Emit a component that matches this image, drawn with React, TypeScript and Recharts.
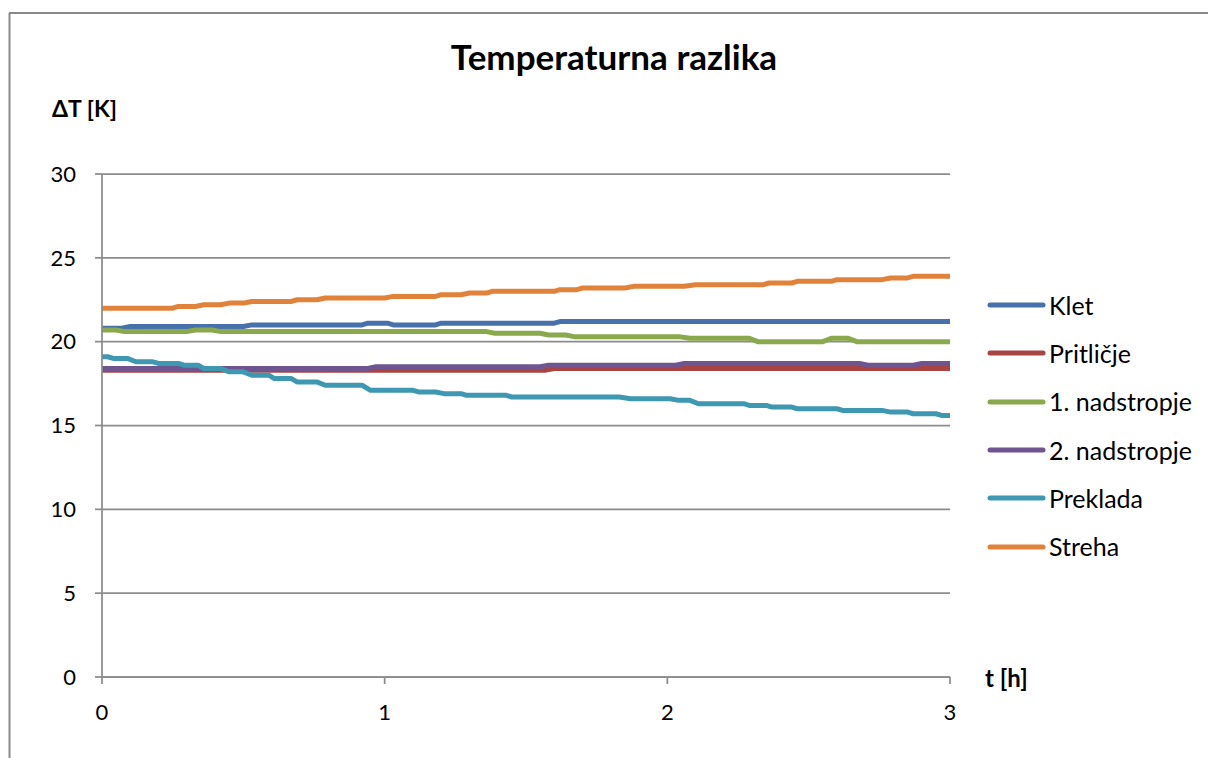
import React from 'react';
import { LineChart, Line, XAxis, YAxis, CartesianGrid, Legend } from 'recharts';

const FONT = 'Lato, "Noto Sans", sans-serif';
const GRID = '#8c8c8c';

const xTicks = [0, 1, 2, 3];
const yTicks = [0, 5, 10, 15, 20, 25, 30];
const seriesNames = ['Klet', 'Pritličje', '1. nadstropje', '2. nadstropje', 'Preklada', 'Streha'];
const seriesColors = ['#4671aa', '#a84442', '#8aa84c', '#6f5590', '#3f98b1', '#e0823a'];

// [t (h), ΔT (K)] breakpoints
const klet = [[0, 20.8], [0.07, 20.8], [0.1, 20.9], [0.5, 20.9], [0.53, 21.0], [0.92, 21.0], [0.94, 21.1], [1.01, 21.1], [1.03, 21.0], [1.18, 21.0], [1.2, 21.1], [1.6, 21.1], [1.62, 21.2], [3, 21.2]];
const pritlicje = [[0, 18.3], [1.57, 18.3], [1.6, 18.4], [3, 18.4]];
const nad1 = [[0, 20.7], [0.05, 20.7], [0.08, 20.6], [0.3, 20.6], [0.33, 20.7], [0.39, 20.7], [0.42, 20.6], [1.36, 20.6], [1.39, 20.5], [1.55, 20.5], [1.58, 20.4], [1.64, 20.4], [1.67, 20.3], [2.04, 20.3], [2.08, 20.2], [2.29, 20.2], [2.32, 20.0], [2.55, 20.0], [2.58, 20.2], [2.64, 20.2], [2.67, 20.0], [3, 20.0]];
const nad2 = [[0, 18.4], [0.94, 18.4], [0.97, 18.5], [1.55, 18.5], [1.58, 18.6], [2.03, 18.6], [2.06, 18.7], [2.68, 18.7], [2.71, 18.6], [2.87, 18.6], [2.9, 18.7], [3, 18.7]];
const preklada = [[0, 19.1], [0.02, 19.1], [0.04, 19.0], [0.09, 19.0], [0.12, 18.8], [0.18, 18.8], [0.2, 18.7], [0.27, 18.7], [0.29, 18.6], [0.34, 18.6], [0.36, 18.4], [0.42, 18.4], [0.45, 18.2], [0.5, 18.2], [0.53, 18.0], [0.59, 18.0], [0.61, 17.8], [0.67, 17.8], [0.69, 17.6], [0.76, 17.6], [0.79, 17.4], [0.92, 17.4], [0.95, 17.1], [1.1, 17.1], [1.12, 17.0], [1.18, 17.0], [1.21, 16.9], [1.27, 16.9], [1.29, 16.8], [1.43, 16.8], [1.45, 16.7], [1.83, 16.7], [1.87, 16.6], [2.01, 16.6], [2.04, 16.5], [2.08, 16.5], [2.11, 16.3], [2.27, 16.3], [2.29, 16.2], [2.35, 16.2], [2.37, 16.1], [2.44, 16.1], [2.46, 16.0], [2.6, 16.0], [2.62, 15.9], [2.76, 15.9], [2.79, 15.8], [2.85, 15.8], [2.87, 15.7], [2.95, 15.7], [2.97, 15.6], [3, 15.6]];
const streha = [[0, 22.0], [0.25, 22.0], [0.27, 22.1], [0.33, 22.1], [0.36, 22.2], [0.42, 22.2], [0.45, 22.3], [0.5, 22.3], [0.53, 22.4], [0.67, 22.4], [0.69, 22.5], [0.76, 22.5], [0.79, 22.6], [1.0, 22.6], [1.03, 22.7], [1.18, 22.7], [1.2, 22.8], [1.27, 22.8], [1.3, 22.9], [1.36, 22.9], [1.38, 23.0], [1.6, 23.0], [1.62, 23.1], [1.68, 23.1], [1.7, 23.2], [1.85, 23.2], [1.88, 23.3], [2.06, 23.3], [2.1, 23.4], [2.34, 23.4], [2.36, 23.5], [2.44, 23.5], [2.46, 23.6], [2.58, 23.6], [2.6, 23.7], [2.76, 23.7], [2.79, 23.8], [2.85, 23.8], [2.87, 23.9], [3, 23.9]];

const seriesData = [klet, pritlicje, nad1, nad2, preklada, streha].map((arr) =>
  arr.map(([t, v]) => ({ t, v }))
);

const LEGEND_W = 221;

const renderLegend = (props: any) => {
  const payload = [...(props.payload || [])].sort(
    (a: any, b: any) => seriesNames.indexOf(a.value) - seriesNames.indexOf(b.value)
  );
  return (
    <div style={{ fontFamily: FONT, fontSize: 25, color: '#000' }}>
      {payload.map((p: any) => (
        <div key={p.value} style={{ height: 48.3, display: 'flex', alignItems: 'center' }}>
          <svg width={62} height={10} style={{ display: 'block' }}>
            <line x1={3} y1={5} x2={56} y2={5} stroke={p.color} strokeWidth={5} strokeLinecap="round" />
          </svg>
          <span style={{ lineHeight: 1 }}>{p.value}</span>
        </div>
      ))}
    </div>
  );
};

export default function App() {
  return (
    <div style={{ width: 1208, height: 758, overflow: 'hidden', background: '#fff' }}>
      <style>{'html,body{margin:0;padding:0;overflow:hidden;background:#fff}'}</style>
      <LineChart
        width={1208}
        height={758}
        margin={{ top: 174, right: 258 - LEGEND_W, bottom: 41, left: 42 }}
      >
        <line x1={9.5} y1={13} x2={9.5} y2={758} stroke="#8a8a8a" strokeWidth={2} />
        <line x1={9} y1={13} x2={1208} y2={13} stroke="#8a8a8a" strokeWidth={2} />
        <text x={614} y={70} textAnchor="middle" fontFamily={FONT} fontWeight="bold" fontSize={35} fill="#000">
          Temperaturna razlika
        </text>
        <text x={52} y={117} fontFamily={FONT} fontWeight="bold" fontSize={23} fill="#000">
          ΔT [K]
        </text>
        <text x={985} y={687} fontFamily={FONT} fontWeight="bold" fontSize={24} fill="#000">
          t [h]
        </text>
        <CartesianGrid vertical={false} stroke={GRID} strokeWidth={1.75} horizontalValues={yTicks} />
        <XAxis
          type="number"
          dataKey="t"
          domain={[0, 3]}
          ticks={xTicks}
          interval={0}
          height={40}
          tickSize={7}
          tickMargin={20}
          axisLine={{ stroke: GRID, strokeWidth: 1.75 }}
          tickLine={{ stroke: GRID, strokeWidth: 1.75 }}
          tick={{ fill: '#000', fontSize: 22, fontFamily: FONT }}
          allowDataOverflow
        />
        <YAxis
          type="number"
          domain={[0, 30]}
          ticks={yTicks}
          interval={0}
          width={60}
          tickSize={7}
          tickMargin={19}
          axisLine={{ stroke: GRID, strokeWidth: 1.75 }}
          tickLine={{ stroke: GRID, strokeWidth: 1.75 }}
          tick={{ fill: '#000', fontSize: 22, fontFamily: FONT }}
          allowDataOverflow
        />
        {seriesNames.map((name, i) => (
          <Line
            key={name}
            name={name}
            data={seriesData[i]}
            dataKey="v"
            type="linear"
            stroke={seriesColors[i]}
            strokeWidth={5}
            strokeLinecap="round"
            strokeLinejoin="round"
            dot={false}
            activeDot={false}
            isAnimationActive={false}
            legendType="line"
          />
        ))}
        <Legend
          layout="horizontal"
          verticalAlign="middle"
          align="right"
          width={LEGEND_W}
          itemSorter={null as any}
          wrapperStyle={{ left: 987, top: 281, width: LEGEND_W }}
          content={renderLegend}
        />
      </LineChart>
    </div>
  );
}
